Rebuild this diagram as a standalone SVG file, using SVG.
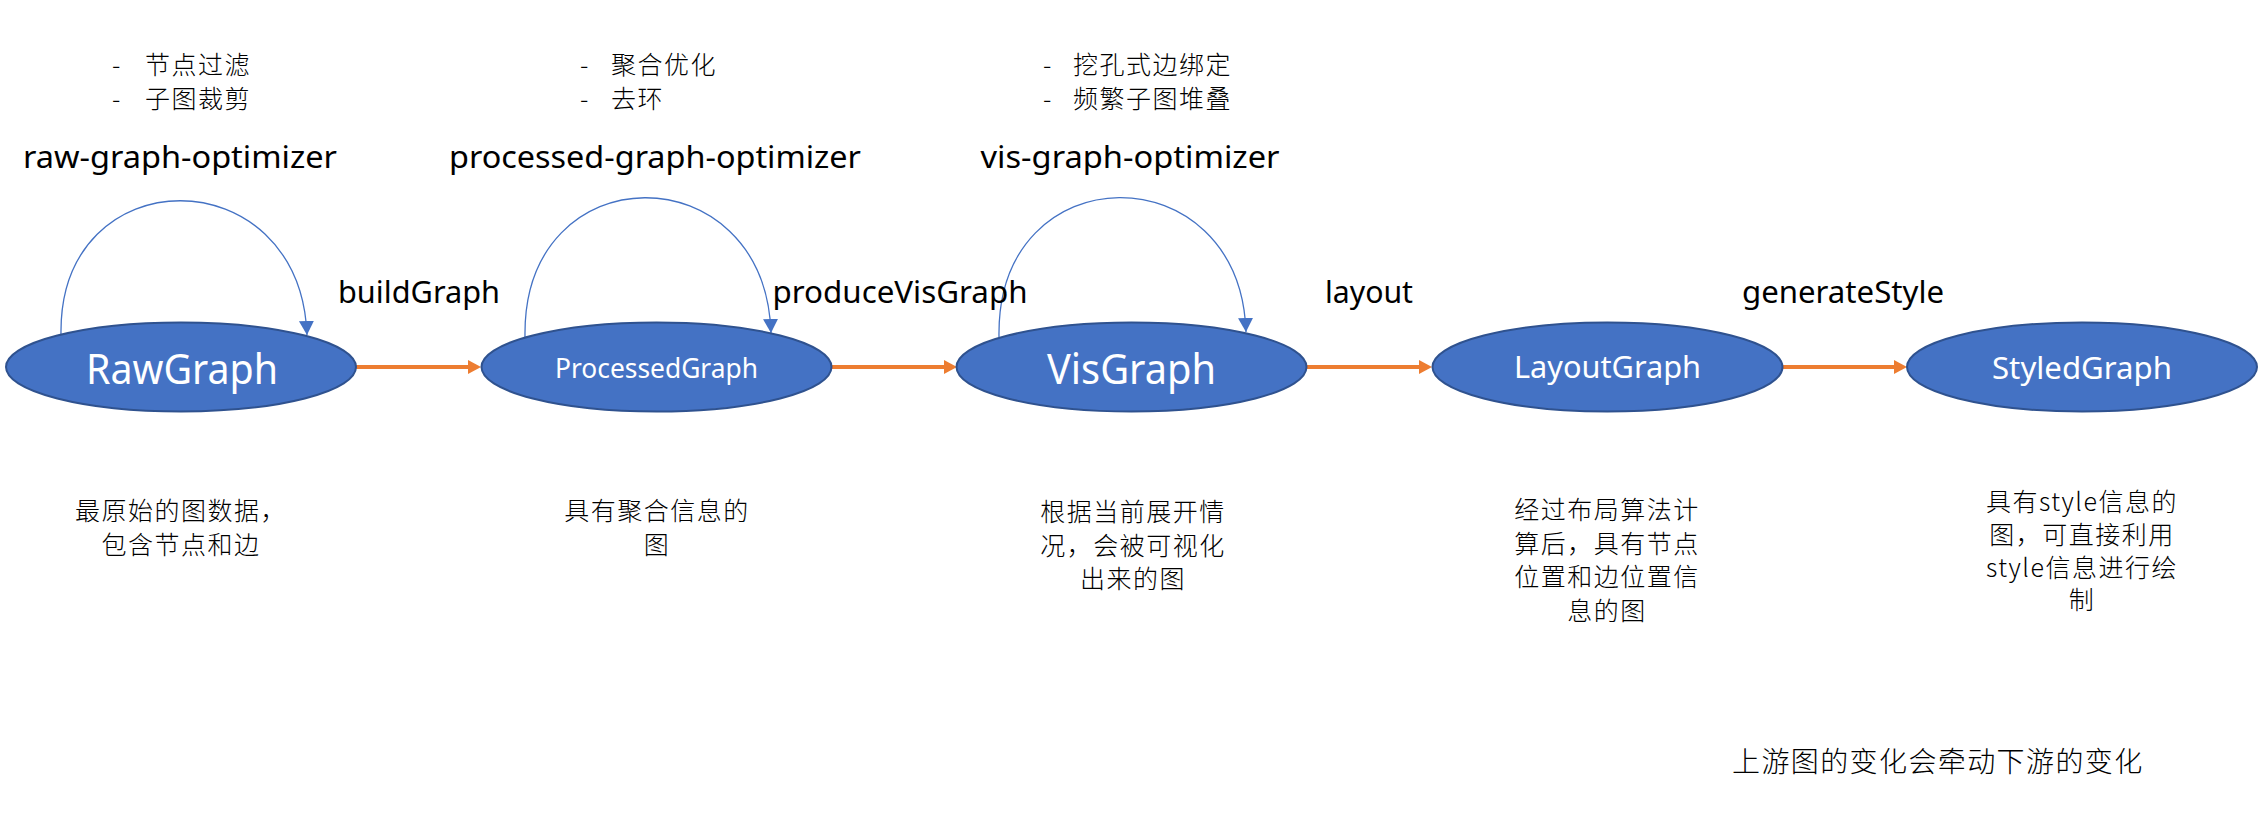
<svg xmlns="http://www.w3.org/2000/svg" width="2261" height="817" viewBox="0 0 2261 817">
<style>
.bg{fill:#ffffff}
.node{fill:#4472C4;stroke:#2F528F;stroke-width:2}
.nl{fill:#ffffff;font-family:"Noto Sans","Open Sans",sans-serif;text-anchor:middle}
.lbl{fill:#000000;font-family:"Noto Sans","Open Sans",sans-serif;font-size:30px;text-anchor:middle}
.cjk{fill:#000000;font-family:"Noto Sans CJK SC","Noto Sans",sans-serif;font-size:25px;font-weight:300;letter-spacing:1.5px}
.desc{text-anchor:middle}
.flow{fill:none;stroke:#ED7D31;stroke-width:4;marker-end:url(#oa)}
.loop{fill:none;stroke:#4472C4;stroke-width:1.3;marker-end:url(#ba)}
</style>
<defs>
<marker id="oa" markerUnits="userSpaceOnUse" markerWidth="14" markerHeight="14" refX="3" refY="7" orient="auto"><path d="M0,0 L13,7 L0,14 z" fill="#ED7D31"/></marker>
<marker id="ba" markerUnits="userSpaceOnUse" markerWidth="16" markerHeight="16" refX="14" refY="7.5" orient="auto"><path d="M0,0 L14,7.5 L0,15 z" fill="#4472C4"/></marker>
</defs>
<rect class="bg" x="0" y="0" width="2261" height="817"/>

<g id="connectors">
<path class="flow" d="M356,367 L471,367"/>
<path class="flow" d="M831,367 L947,367"/>
<path class="flow" d="M1306,367 L1422,367"/>
<path class="flow" d="M1782,367 L1897,367"/>
<path class="loop" d="M61,335 C58,156 300,156 307,335"/>
<path class="loop" d="M525,337 C522,152 765,152 771,333"/>
<path class="loop" d="M999,337 C996,152 1240,152 1246,332"/>
<text class="lbl" x="419" y="303" textLength="162" lengthAdjust="spacingAndGlyphs">buildGraph</text>
<text class="lbl" x="900" y="303" textLength="255" lengthAdjust="spacingAndGlyphs">produceVisGraph</text>
<text class="lbl" x="1369" y="303" textLength="88" lengthAdjust="spacingAndGlyphs">layout</text>
<text class="lbl" x="1843" y="303" textLength="202" lengthAdjust="spacingAndGlyphs">generateStyle</text>
<text class="lbl" x="180" y="168" textLength="314" lengthAdjust="spacingAndGlyphs">raw-graph-optimizer</text>
<text class="lbl" x="655" y="168" textLength="412" lengthAdjust="spacingAndGlyphs">processed-graph-optimizer</text>
<text class="lbl" x="1130" y="168" textLength="299" lengthAdjust="spacingAndGlyphs">vis-graph-optimizer</text>
</g>

<g id="raw-notes">
<text class="cjk" x="112" y="74">-</text><text class="cjk" x="145" y="74">节点过滤</text>
<text class="cjk" x="112" y="108">-</text><text class="cjk" x="145" y="108">子图裁剪</text>
</g>
<g id="processed-notes">
<text class="cjk" x="580" y="74">-</text><text class="cjk" x="611" y="74">聚合优化</text>
<text class="cjk" x="580" y="108">-</text><text class="cjk" x="611" y="108">去环</text>
</g>
<g id="vis-notes">
<text class="cjk" x="1043" y="74">-</text><text class="cjk" x="1073" y="74">挖孔式边绑定</text>
<text class="cjk" x="1043" y="108">-</text><text class="cjk" x="1073" y="108">频繁子图堆叠</text>
</g>

<g id="RawGraph">
<ellipse class="node" cx="181" cy="367" rx="175" ry="44.5"/>
<text class="nl" x="182" y="384" font-size="41" textLength="192" lengthAdjust="spacingAndGlyphs">RawGraph</text>
<text class="cjk desc" x="181" y="520">最原始的图数据，</text>
<text class="cjk desc" x="181" y="553.5">包含节点和边</text>
</g>
<g id="ProcessedGraph">
<ellipse class="node" cx="656.5" cy="367" rx="175" ry="44.5"/>
<text class="nl" x="656.5" y="378" font-size="28" textLength="203" lengthAdjust="spacingAndGlyphs">ProcessedGraph</text>
<text class="cjk desc" x="657" y="520">具有聚合信息的</text>
<text class="cjk desc" x="657" y="553.5">图</text>
</g>
<g id="VisGraph">
<ellipse class="node" cx="1131.5" cy="367" rx="175" ry="44.5"/>
<text class="nl" x="1131.5" y="384" font-size="42" textLength="169" lengthAdjust="spacingAndGlyphs">VisGraph</text>
<text class="cjk desc" x="1133" y="521">根据当前展开情</text>
<text class="cjk desc" x="1133" y="554.5">况，会被可视化</text>
<text class="cjk desc" x="1133" y="588">出来的图</text>
</g>
<g id="LayoutGraph">
<ellipse class="node" cx="1607.5" cy="367" rx="175" ry="44.5"/>
<text class="nl" x="1607.5" y="378" font-size="30" textLength="187" lengthAdjust="spacingAndGlyphs">LayoutGraph</text>
<text class="cjk desc" x="1607" y="519">经过布局算法计</text>
<text class="cjk desc" x="1607" y="552.5">算后，具有节点</text>
<text class="cjk desc" x="1607" y="586">位置和边位置信</text>
<text class="cjk desc" x="1607" y="619.5">息的图</text>
</g>
<g id="StyledGraph">
<ellipse class="node" cx="2082" cy="367" rx="175" ry="44.5"/>
<text class="nl" x="2082" y="379" font-size="30" textLength="180" lengthAdjust="spacingAndGlyphs">StyledGraph</text>
<text class="cjk desc" x="2082" y="510.5">具有style信息的</text>
<text class="cjk desc" x="2082" y="543.5">图，可直接利用</text>
<text class="cjk desc" x="2082" y="576.5">style信息进行绘</text>
<text class="cjk desc" x="2082" y="608.5">制</text>
</g>

<g id="footnote">
<text class="cjk" x="1732" y="772" style="font-size:28px;letter-spacing:1.4px">上游图的变化会牵动下游的变化</text>
</g>
</svg>
